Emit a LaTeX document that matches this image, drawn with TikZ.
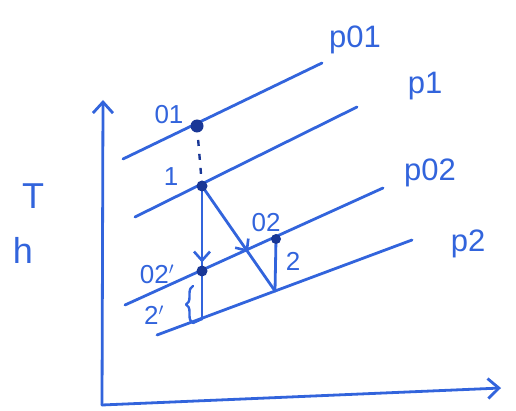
\documentclass[tikz,border=0pt]{standalone}
\usepackage{fontspec}
\setmainfont{Liberation Sans}
\usetikzlibrary{arrows.meta,decorations.markings,decorations.pathreplacing}
\definecolor{ink}{RGB}{50,100,220}
\definecolor{dotink}{RGB}{25,55,150}
\begin{document}
\begin{tikzpicture}[x=1pt,y=-1pt,
  pen/.style={ink, line width=2.8pt, line cap=round, line join=round},
  biglbl/.style={text=ink, font=\fontsize{36}{38}\selectfont, inner sep=0pt},
  plbl/.style={text=ink, font=\fontsize{31}{33}\selectfont, inner sep=0pt},
  lbl/.style={text=ink, font=\fontsize{26}{28}\selectfont, inner sep=0pt},
  statedot/.style={circle, fill=dotink, inner sep=0pt, minimum size=#1},
  statedot/.default=11pt,
  midarrow/.style={decoration={markings, mark=at position #1 with {\arrow{Straight Barb[length=9pt,width=16pt,line width=2.6pt]}}}, postaction={decorate}},
  axtip/.style={-{Straight Barb[length=11pt,width=20pt,line width=2.8pt]}}
  ]
\useasboundingbox (0,0) rectangle (516,411);
% axes
\coordinate (O) at (102,405);
\coordinate (Ytop) at (103,100);
\coordinate (Xend) at (501,388);
\draw[pen,axtip] (O) -- (Ytop);
\draw[pen,axtip] (O) -- (Xend);
% isobars
\coordinate (a1) at (123,159); \coordinate (a2) at (322,63);
\coordinate (b1) at (135,217); \coordinate (b2) at (357,107);
\coordinate (c1) at (125,305); \coordinate (c2) at (383,188);
\coordinate (d1) at (157,335); \coordinate (d2) at (412,240);
\draw[pen] (a1) -- (a2);
\draw[pen] (b1) -- (b2);
\draw[pen] (c1) -- (c2);
\draw[pen] (d1) -- (d2);
% states
\coordinate (s01) at (197,126);
\coordinate (s1) at (202,186);
\coordinate (s02p) at (202,271);
\coordinate (s2p) at (202,319);
\coordinate (s2) at (275,291);
\coordinate (s02) at (276,239);
\coordinate (brtop) at (193,286);
\coordinate (brbot) at (193,323);
% process lines
\draw[dotink, line width=2.4pt, dash pattern=on 6pt off 8pt] (s01) -- (s1);
\draw[pen, midarrow=0.9] (s1) -- (s02p);
\draw[pen] (s02p) -- (s2p);
\draw[pen, midarrow=0.63] (s1) -- (s2);
\draw[pen] (s2) -- (s02);
\draw[pen, line width=2.4pt, decorate, decoration={brace, amplitude=7pt}] (brbot) -- (brtop);
\draw[pen, line width=2.4pt] (brbot) -- (s2p);
% dots
\node[statedot=13pt] (n01) at (s01) {};
\node[statedot] (n1) at (s1) {};
\node[statedot] (n02p) at (s02p) {};
\node[statedot=10pt] (n02) at (s02) {};
% labels
\node[plbl] (lp01) at (355,40) {p01};
\node[plbl] (lp1) at (425,86) {p1};
\node[plbl] (lp02) at (430,173) {p02};
\node[plbl] (lp2) at (468,244) {p2};
\node[biglbl] (lT) at (33,196) {T};
\node[biglbl] (lh) at (23,250) {h};
\node[lbl] (l01) at (169,115) {01};
\node[lbl] (l1) at (171,177) {1};
\node[lbl] (l02) at (266,223) {02};
\node[lbl] (l2) at (293,261) {2};
\node[lbl] (l02p) at (157,274) {02$'$};
\node[lbl] (l2p) at (154,315) {2$'$};
\end{tikzpicture}
\end{document}
